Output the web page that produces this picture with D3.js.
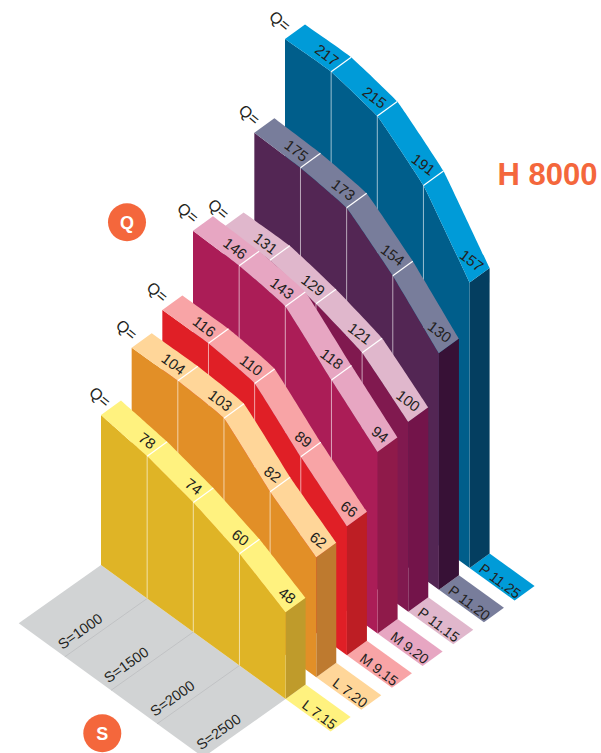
<!DOCTYPE html>
<html>
<head>
<meta charset="utf-8">
<style>
html,body{margin:0;padding:0;background:#fff;overflow:hidden}
svg{display:block}
text{font-family:"Liberation Sans",Arial,sans-serif;fill:#231f20}
</style>
<script src="https://cdn.jsdelivr.net/npm/d3@7/dist/d3.min.js"></script>
</head>
<body>
<script>
// ---- data ----
const seriesNames = ["L 7.15","L 7.20","M 9.15","M 9.20","P 11.15","P 11.20","P 11.25"];
const sLabels = ["S=1000","S=1500","S=2000","S=2500"];
const qLabels = [
  [78,74,60,48],
  [104,103,82,62],
  [116,110,89,66],
  [146,143,118,94],
  [131,129,121,100],
  [175,173,154,130],
  [217,215,191,157]
];
// drawn level of each profile vertex (five per series)
const yellowLevels = [82.4,78.2,71.2,61.4,47.6];
const orangeLevels = [107.4,107.7,105.5,83.5,65.9];
const redLevels    = [116.1,116.2,112.6,90.7,70.9];
const roseLevels   = [147.7,146.9,142.9,120.9,99.8];
const paleLevels   = [137.7,137.9,132.4,123.9,104.4];
const slateLevels  = [177.5,176.7,173.1,154.2,130.1];
const blueLevels   = [217,217.5,211.5,191.8,156.8];
const levels = [yellowLevels,orangeLevels,redLevels,roseLevels,paleLevels,slateLevels,blueLevels];
const topColors   = ["#fff27f","#ffd699","#f8a4a6","#e7a6c2","#e0b7cc","#787d9b","#009bd8"];
const frontColors = ["#dfb426","#e28f27","#e01f26","#ab1d57","#80194f","#532654","#005e8b"];
const sideColors  = ["#bf9b2b","#be7a2f","#bd1e24","#8f1a4a","#73144a","#371136","#043e60"];
const accent = "#f4673c";
const title = "H 8000";

// ---- scales: oblique projection ----
const W = 601, H = 753;
const sx = d3.scaleLinear().domain([0,4]).range([101,285.6]);
const sy = d3.scaleLinear().domain([0,4]).range([565,699]);
const dx = d3.scaleLinear().domain([0,6]).range([0,184]);
const dy = d3.scaleLinear().domain([0,6]).range([0,-131]);
const hy = d3.scaleLinear().domain([0,100]).range([0,182]);
const depth = {x:20, y:-14.5};
const ang = 37;
const floorReach = {x:-82.3, y:58.3};

const project = (s,k,v) => ({x:sx(s)+dx(k), y:sy(s)+dy(k)-hy(v)});

const svg = d3.select("body").append("svg").attr("width",W).attr("height",H);
const line = d3.line().x(d=>d.x).y(d=>d.y).curve(d3.curveCardinal.tension(0.75));
const poly = pts => "M"+pts.map(p=>p.x+","+p.y).join("L")+"Z";

// floor
const floorA = project(0,0,0), floorB = project(4,0,0);
svg.append("path").attr("fill","#d1d3d4").attr("d",poly([
  floorA, floorB,
  {x:floorB.x+floorReach.x,y:floorB.y+floorReach.y},
  {x:floorA.x+floorReach.x,y:floorA.y+floorReach.y}
]));
sLabels.forEach((t,i)=>{
  const p = project(i+1,0,0), e = {x:p.x+floorReach.x,y:p.y+floorReach.y};
  if(i<3) svg.append("line").attr("x1",p.x).attr("y1",p.y).attr("x2",e.x).attr("y2",e.y)
    .attr("stroke","#bcbec0").attr("stroke-width",0.8);
  svg.append("text").text(t).attr("font-size",14.5)
    .attr("transform",`translate(${e.x},${e.y}) rotate(-35.3) translate(2,-7)`);
});

// series, back to front
d3.range(seriesNames.length-1,-1,-1).forEach(k=>{
  const g = svg.append("g");
  const lv = levels[k];
  const front = lv.map((v,i)=>project(i,k,v));
  const back = front.map(p=>({x:p.x+depth.x,y:p.y+depth.y}));
  const base = lv.map((v,i)=>project(i,k,0));
  const b4 = base[4];
  const strip = {x:45,y:32.5};
  const b4b = {x:b4.x+depth.x,y:b4.y+depth.y};
  g.append("path").attr("fill",topColors[k]).attr("d",poly([
    b4, b4b, {x:b4b.x+strip.x,y:b4b.y+strip.y}, {x:b4.x+strip.x,y:b4.y+strip.y}
  ]));
  g.append("text").text(seriesNames[k]).attr("font-size",14.2).attr("text-anchor","end")
    .attr("transform",`translate(${b4.x+49.5},${b4.y+27.3}) rotate(${ang}) translate(0,5.1)`);
  const fe = front[4], be = back[4];
  g.append("path").attr("fill",sideColors[k]).attr("d",poly([fe,be,{x:be.x,y:b4b.y},b4]));
  g.append("path").attr("fill",frontColors[k])
    .attr("d",line(front)+"L"+b4.x+","+b4.y+"L"+base[0].x+","+base[0].y+"Z");
  g.append("path").attr("fill",topColors[k])
    .attr("d",line(front)+"L"+line(back.slice().reverse()).slice(1)+"Z");
  qLabels[k].forEach((v,i)=>{
    const f = front[i+1], b = back[i+1], d0 = base[i+1], p0 = front[i];
    if(i<3){
      g.append("line").attr("x1",f.x).attr("y1",f.y).attr("x2",d0.x).attr("y2",d0.y)
        .attr("stroke","#fff").attr("stroke-opacity",0.6).attr("stroke-width",1);
      g.append("line").attr("x1",f.x).attr("y1",f.y).attr("x2",b.x).attr("y2",b.y)
        .attr("stroke","#fff").attr("stroke-width",1.2);
    }
    // value label sits on the strip's centre line, just before the divider
    const len = Math.hypot(f.x-p0.x,f.y-p0.y), ux=(f.x-p0.x)/len, uy=(f.y-p0.y)/len;
    const t = String(v).length*0.556*15/2+3.8;
    const cx=(f.x+b.x)/2-t*ux-1, cy=(f.y+b.y)/2-t*uy;
    g.append("text").text(v).attr("font-size",15).attr("text-anchor","middle")
      .attr("transform",`translate(${cx},${cy}) rotate(${ang}) translate(0,5.3)`);
  });
  g.append("text").text("Q=").attr("font-size",16).attr("text-anchor","middle")
    .attr("transform",`translate(${front[0].x+(k===0?-1:-5)},${front[0].y-18}) rotate(40) translate(0,5.5)`);
});

// badges
[["Q",127,222.3],["S",102.3,733.3]].forEach(([t,x,y])=>{
  svg.append("circle").attr("cx",x).attr("cy",y).attr("r",19).attr("fill",accent);
  svg.append("text").text(t).attr("x",x).attr("y",y+6.5).attr("text-anchor","middle")
    .attr("font-size",18).attr("font-weight","bold").style("fill","#fff");
});
svg.append("text").text(title).attr("x",497.5).attr("y",185)
  .attr("font-size",31).attr("font-weight","bold").style("fill",accent);
</script>
</body>
</html>
